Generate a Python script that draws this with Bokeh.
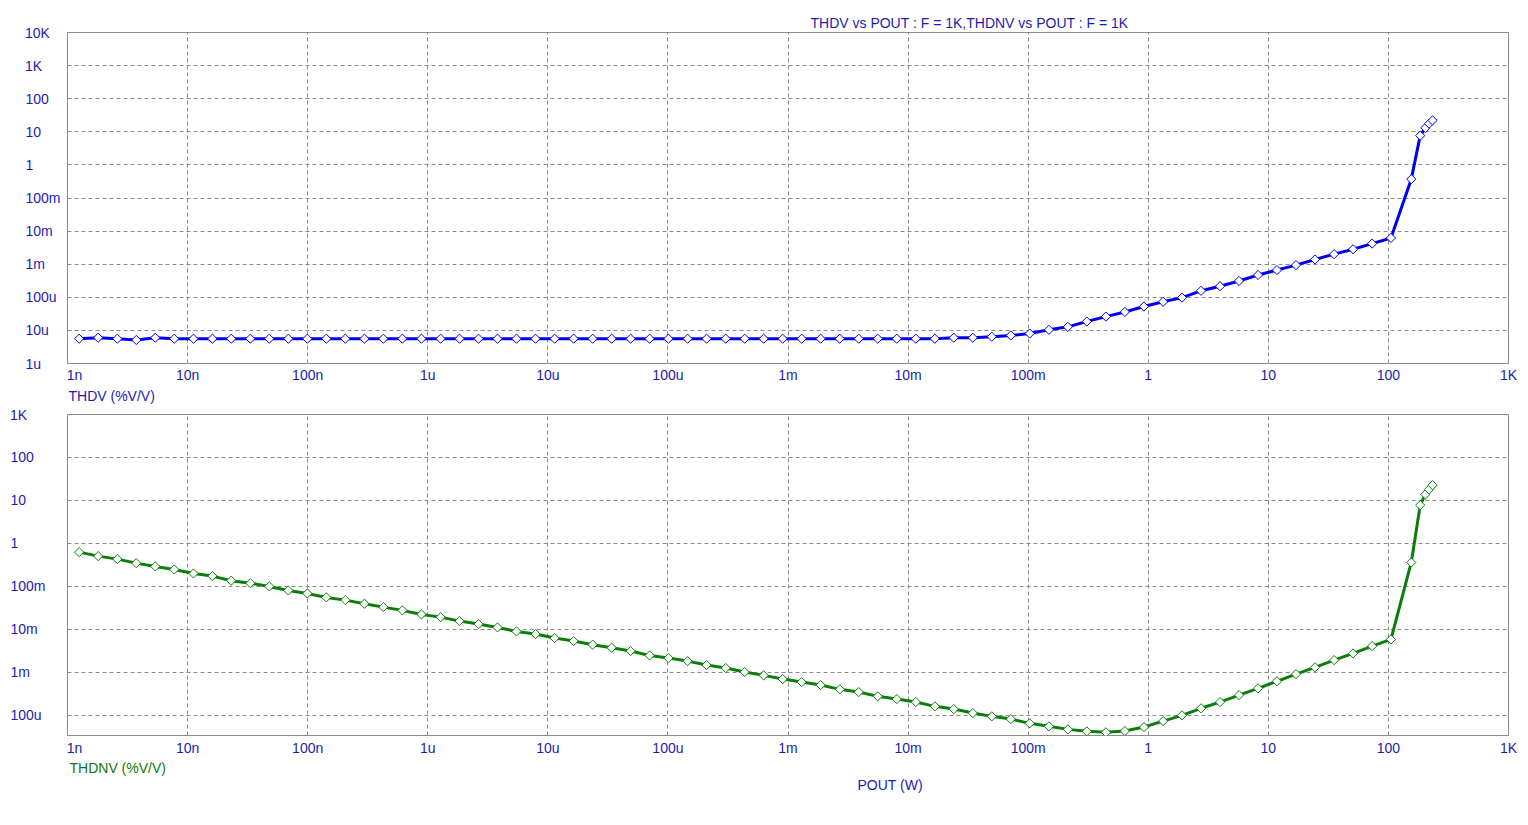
import numpy as np
from bokeh.plotting import figure
from bokeh.models import Range1d, FixedTicker, Title
from bokeh.layouts import column
from bokeh.embed import file_html
from bokeh.resources import INLINE

# ---------------- data ----------------
pout = [1.25e-9, 1.80e-9, 2.60e-9, 3.74e-9, 5.38e-9, 7.75e-9,
        1.12e-8, 1.61e-8, 2.31e-8, 3.33e-8, 4.79e-8, 6.90e-8,
        9.94e-8, 1.43e-7, 2.06e-7, 2.97e-7, 4.27e-7, 6.15e-7,
        8.86e-7, 1.28e-6, 1.84e-6, 2.65e-6, 3.81e-6, 5.48e-6,
        7.90e-6, 1.14e-5, 1.64e-5, 2.36e-5, 3.40e-5, 4.89e-5,
        7.04e-5, 1.01e-4, 1.46e-4, 2.10e-4, 3.03e-4, 4.36e-4,
        6.27e-4, 9.03e-4, 1.30e-3, 1.87e-3, 2.70e-3, 3.88e-3,
        5.59e-3, 8.05e-3, 1.16e-2, 1.67e-2, 2.40e-2, 3.46e-2,
        4.98e-2, 7.17e-2, 0.103, 0.149, 0.214, 0.308,
        0.444, 0.639, 0.921, 1.33, 1.91, 2.75,
        3.96, 5.70, 8.21, 11.8, 17.0, 24.5,
        35.3, 50.8, 73.2, 105.0,
        155.0, 184.0, 203.0, 218.0, 233.0]

thdv = [5.61e-6, 6.00e-6, 5.61e-6, 5.13e-6, 6.00e-6, 5.61e-6,
        5.61e-6, 5.61e-6, 5.61e-6, 5.61e-6, 5.61e-6, 5.61e-6,
        5.61e-6, 5.61e-6, 5.61e-6, 5.61e-6, 5.61e-6, 5.61e-6,
        5.61e-6, 5.61e-6, 5.61e-6, 5.61e-6, 5.61e-6, 5.61e-6,
        5.61e-6, 5.61e-6, 5.61e-6, 5.61e-6, 5.61e-6, 5.61e-6,
        5.61e-6, 5.61e-6, 5.61e-6, 5.61e-6, 5.61e-6, 5.61e-6,
        5.61e-6, 5.61e-6, 5.61e-6, 5.61e-6, 5.61e-6, 5.61e-6,
        5.61e-6, 5.61e-6, 5.61e-6, 5.61e-6, 6.00e-6, 6.00e-6,
        6.43e-6, 7.03e-6, 8.07e-6, 1.04e-5, 1.28e-5, 1.85e-5,
        2.61e-5, 3.61e-5, 5.27e-5, 7.33e-5, 9.79e-5, 1.57e-4,
        2.16e-4, 3.12e-4, 4.72e-4, 6.65e-4, 9.40e-4, 1.39e-3,
        2.01e-3, 2.83e-3, 4.20e-3, 6.21e-3,
        0.371, 7.69, 13.1, 17.6, 22.1]

thdnv = [0.628, 0.507, 0.432, 0.348, 0.292, 0.248,
         0.200, 0.174, 0.136, 0.119, 0.100, 0.0807,
         0.0687, 0.0555, 0.0480, 0.0396, 0.0330, 0.0277,
         0.0223, 0.0193, 0.0156, 0.0133, 0.0111, 0.00897,
         0.00778, 0.00628, 0.00535, 0.00441, 0.00375, 0.00313,
         0.00248, 0.00215, 0.00183, 0.00148, 0.00126, 0.00102,
         8.51e-4, 6.98e-4, 5.94e-4, 5.07e-4, 4.03e-4, 3.48e-4,
         2.77e-4, 2.39e-4, 2.04e-4, 1.62e-4, 1.40e-4, 1.13e-4,
         9.48e-5, 8.20e-5, 6.52e-5, 5.55e-5, 4.72e-5, 4.25e-5,
         4.03e-5, 4.32e-5, 5.35e-5, 7.36e-5, 1.00e-4, 1.46e-4,
         2.04e-4, 2.96e-4, 4.25e-4, 6.18e-4, 9.12e-4, 1.31e-3,
         1.93e-3, 2.77e-3, 4.09e-3, 5.85e-3,
         0.361, 7.78, 13.8, 18.0, 22.7]

x_ticks = [1e-9, 1e-8, 1e-7, 1e-6, 1e-5, 1e-4, 1e-3, 1e-2, 1e-1, 1.0, 10.0, 100.0, 1000.0]
x_tick_labels = ["1n", "10n", "100n", "1u", "10u", "100u", "1m", "10m", "100m",
                 "1", "10", "100", "1K"]

top_y_ticks = [1e4, 1e3, 100.0, 10.0, 1.0, 0.1, 0.01, 1e-3, 1e-4, 1e-5, 1e-6]
top_y_labels = ["10K", "1K", "100", "10", "1", "100m", "10m", "1m", "100u", "10u", "1u"]
bot_y_ticks = [1e3, 100.0, 10.0, 1.0, 0.1, 0.01, 1e-3, 1e-4]
bot_y_labels = ["1K", "100", "10", "1", "100m", "10m", "1m", "100u"]

title_text = "THDV vs POUT : F = 1K,THDNV vs POUT : F = 1K"
top_name = "THDV (%V/V)"
bot_name = "THDNV (%V/V)"
x_name = "POUT (W)"

# ---------------- styles ----------------
FONT = "Liberation Sans"
FS = "14px"
TXT_BLUE = "#1c1cb0"
TXT_GREEN = "#127512"
GRID = "#8a8a8a"
BLUE = "#0000f0"
GREEN = "#0a7d0a"

# trailing fixed-width spaces so that right-aligned tick labels line up on the left
FIG_SP = "\u2007"
PUN_SP = "\u2008"
THIN_SP = "\u2009"
PAD = {"10K": FIG_SP + THIN_SP, "1K": FIG_SP * 2 + THIN_SP, "100": FIG_SP + PUN_SP,
       "10": FIG_SP * 2 + PUN_SP, "1": FIG_SP * 3 + PUN_SP, "100m": "",
       "10m": FIG_SP, "1m": FIG_SP * 2, "100u": PUN_SP, "10u": FIG_SP + PUN_SP,
       "1u": FIG_SP * 2 + PUN_SP}


def make_fig(height, y_lo, y_hi, y_ticks, y_labels, y_standoff, border_top, border_bottom):
    p = figure(width=1520, height=height,
               x_axis_type="log", y_axis_type="log",
               x_range=Range1d(1e-9, 1e3), y_range=Range1d(y_lo, y_hi),
               output_backend="svg", toolbar_location=None,
               min_border_left=67, min_border_right=12,
               min_border_top=border_top, min_border_bottom=border_bottom)
    p.background_fill_color = "white"
    p.border_fill_color = "white"
    p.outline_line_color = GRID
    p.outline_line_width = 1

    ax = p.xaxis[0]
    ax.ticker = FixedTicker(ticks=x_ticks)
    ax.major_label_overrides = {t: ("\u2002\u2002" + s if i == 0 else s)
                                for i, (t, s) in enumerate(zip(x_ticks, x_tick_labels))}
    ay = p.yaxis[0]
    ay.ticker = FixedTicker(ticks=y_ticks)
    ay.major_label_overrides = {t: s + PAD[s] for t, s in zip(y_ticks, y_labels)}
    ay.major_label_standoff = y_standoff
    for a in (ax, ay):
        a.axis_line_color = None
        a.major_tick_line_color = None
        a.minor_tick_line_color = None
        a.major_tick_out = 0
        a.major_tick_in = 0
        a.major_label_text_font = FONT
        a.major_label_text_font_size = FS
        a.major_label_text_color = TXT_BLUE
    ax.major_label_standoff = 3

    p.xgrid.ticker = FixedTicker(ticks=x_ticks)
    p.ygrid.ticker = FixedTicker(ticks=y_ticks)
    for g in (p.xgrid[0], p.ygrid[0]):
        g.grid_line_color = GRID
        g.grid_line_dash = "4 3"
        g.grid_line_width = 1
        g.minor_grid_line_color = None
    return p


def below_title(p, text, color, offset, standoff):
    t = Title(text=text, align="left", offset=offset, standoff=standoff,
              text_font=FONT, text_font_size=FS, text_font_style="normal",
              text_color=color)
    p.add_layout(t, "below")
    return t


# ---------------- top plot ----------------
p1 = make_fig(404, 1e-6, 1e4, top_y_ticks, top_y_labels, 7, 32, 38)
p1.title.text = title_text
p1.title.align = "left"
p1.title.offset = 743
p1.title.standoff = 3
p1.title.text_font = FONT
p1.title.text_font_size = FS
p1.title.text_font_style = "normal"
p1.title.text_color = TXT_BLUE
p1.line(pout, thdv, line_color=BLUE, line_width=3)
p1.scatter(pout, thdv, marker="square", angle=np.pi / 4, size=6.5,
           fill_color="white", line_color=BLUE, line_width=1)
below_title(p1, top_name, TXT_BLUE, 1, 1)

# ---------------- bottom plot ----------------
p2 = make_fig(413, 3.4e-5, 1e3, bot_y_ticks, bot_y_labels, 22, 10, 82)
p2.xaxis[0].major_label_standoff = 4
p2.line(pout, thdnv, line_color=GREEN, line_width=3)
p2.scatter(pout, thdnv, marker="square", angle=np.pi / 4, size=6.5,
           fill_color="white", line_color=GREEN, line_width=1)
below_title(p2, bot_name, TXT_GREEN, 2, -2)
below_title(p2, x_name, TXT_BLUE, 790, 1)

layout = column(p1, p2, spacing=0)
open("out.html", "w").write(file_html(layout, INLINE))
